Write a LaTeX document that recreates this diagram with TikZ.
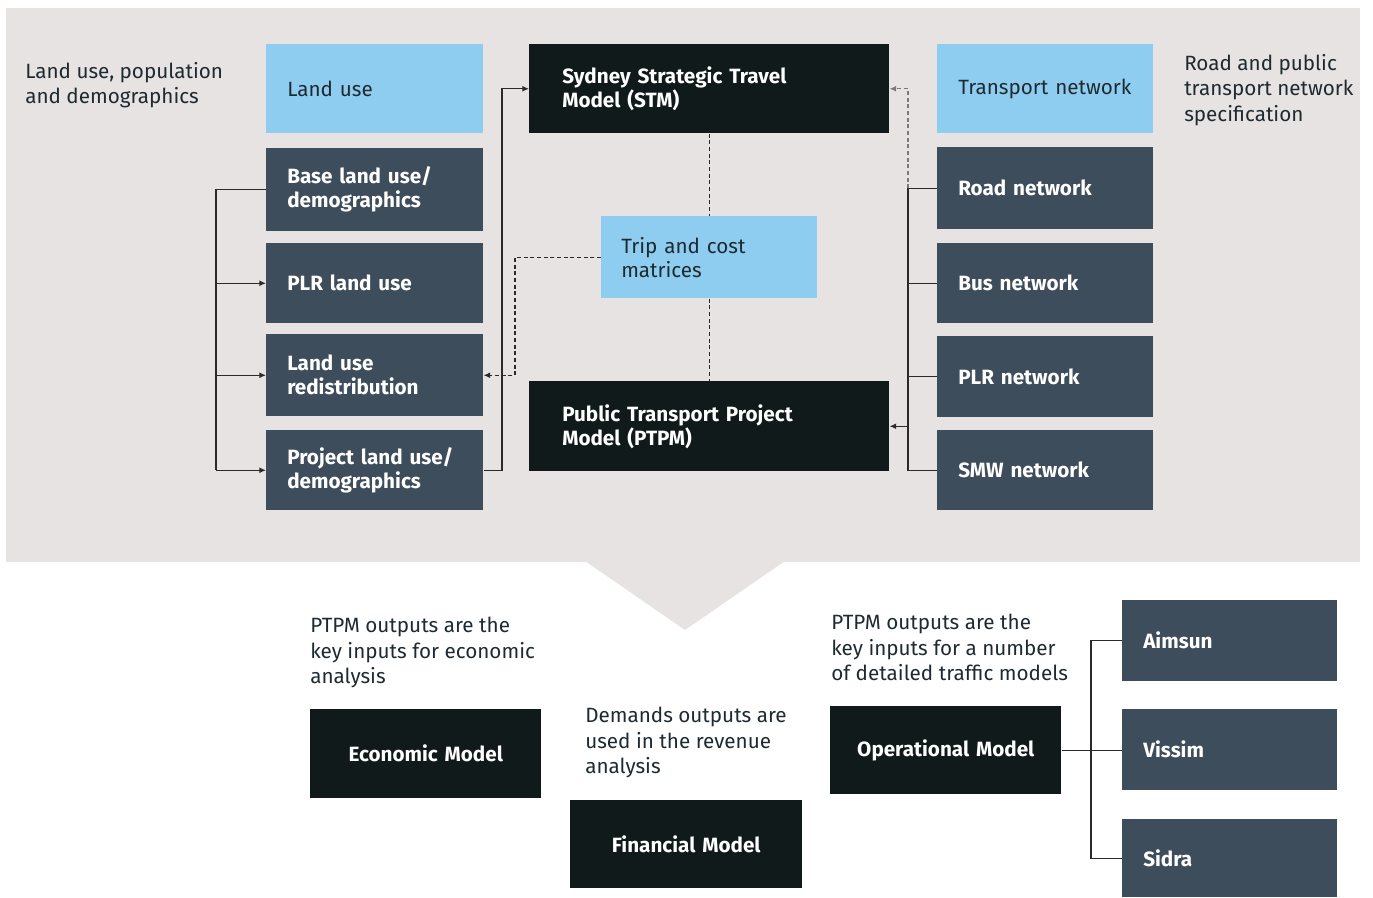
\documentclass[tikz,border=0pt]{standalone}
\usepackage{fontspec}
\setmainfont{Fira Sans}
\usetikzlibrary{arrows.meta}
\definecolor{bgc}{HTML}{E7E3E2}
\definecolor{lblue}{HTML}{8ECDF0}
\definecolor{slate}{HTML}{3E4D5C}
\definecolor{blk}{HTML}{101A1A}
\definecolor{ink}{HTML}{1E2A30}
\definecolor{lnc}{HTML}{2A2A2A}
\definecolor{gdash}{HTML}{7A7A7A}
\tikzset{
  x=0.75pt,y=-0.75pt,
  base/.style={anchor=north west, inner ysep=0pt, align=left, font=\fontsize{15.5}{18}\selectfont},
  lightbox/.style={base, fill=lblue, text=ink},
  slatebox/.style={base, fill=slate, text=white, font=\fontsize{15.5}{18}\selectfont\bfseries},
  blackbox/.style={base, fill=blk, text=white, font=\fontsize{15.5}{18}\selectfont\bfseries},
  centerbox/.style={blackbox, align=center},
  note/.style={anchor=north west, inner sep=0pt, align=left, text=ink, font=\fontsize{15.5}{19}\selectfont},
  conn/.style={draw=lnc, line width=1pt},
  arr/.style={conn, -{Latex[length=5pt,width=4.5pt]}},
  dsh/.style={dash pattern=on 3pt off 2pt},
}
\newcommand\mybox[8][21]{%
  \node[#3, inner xsep={#1*0.75pt}, minimum width={(#6-#4)*0.75pt}, minimum height={(#7-#5)*0.75pt}, text width={(#6-#4-2*#1)*0.75pt}] (#2) at (#4,#5) {#8};}
\begin{document}
\begin{tikzpicture}
\useasboundingbox (0,0) rectangle (1373,897);
\fill[bgc] (6,8) rectangle (1360,562);
\fill[bgc] (585,561) -- (685,630) -- (785,561) -- cycle;

% left column
\mybox{landuse}{lightbox}{266}{44}{483}{133}{Land use}
\mybox{baselu}{slatebox}{266}{148}{483}{231}{Base land use/\\demographics}
\mybox{plrlu}{slatebox}{266}{243}{483}{323}{PLR land use}
\mybox{redist}{slatebox}{266}{334}{483}{416}{Land use\\redistribution}
\mybox{projlu}{slatebox}{266}{430}{483}{510}{Project land use/\\demographics}

% centre
\mybox[33]{stm}{blackbox}{529}{44}{889}{133}{Sydney Strategic Travel\\Model (STM)}
\mybox[20]{trip}{lightbox}{601}{216}{817}{298}{Trip and cost\\matrices}
\mybox[33]{ptpm}{blackbox}{529}{381}{889}{471}{Public Transport Project\\Model (PTPM)}

% right column
\mybox{transnet}{lightbox}{937}{44}{1153}{133}{Transport network}
\mybox{road}{slatebox}{937}{147}{1153}{229}{Road network}
\mybox{bus}{slatebox}{937}{243}{1153}{323}{Bus network}
\mybox{plrnet}{slatebox}{937}{336}{1153}{417}{PLR network}
\mybox{smw}{slatebox}{937}{430}{1153}{510}{SMW network}

% side notes
\node[note] (n1) at (25,62) {Land use, population\\and demographics};
\node[note] (n2) at (1184,54) {Road and public\\transport network\\specification};

% bottom
\node[note] (n3) at (310,617) {PTPM outputs are the\\key inputs for economic\\analysis};
\mybox[10]{econ}{centerbox}{310}{709}{541}{798}{Economic Model}
\node[note] (n4) at (585,707) {Demands outputs are\\used in the revenue\\analysis};
\mybox[10]{fin}{centerbox}{570}{800}{802}{888}{Financial Model}
\node[note] (n5) at (831,614) {PTPM outputs are the\\key inputs for a number\\of detailed traffic models};
\mybox[10]{oper}{centerbox}{830}{706}{1061}{794}{Operational Model}
\mybox{aimsun}{slatebox}{1122}{600}{1337}{681}{Aimsun}
\mybox{vissim}{slatebox}{1122}{709}{1337}{790}{Vissim}
\mybox{sidra}{slatebox}{1122}{819}{1337}{897}{Sidra}

% helper coordinates
\coordinate (LB) at (216,0);
\coordinate (LR) at (502,0);
\coordinate (LD) at (515,0);
\coordinate (RB) at (908,0);
\coordinate (BB) at (1091,0);

% left bracket
\draw[conn] (baselu.west) -- (baselu.west -| LB) -- (projlu.west -| LB);
\draw[arr] (plrlu.west -| LB) -- (plrlu.west);
\draw[arr] (redist.west -| LB) -- (redist.west);
\draw[arr] (projlu.west -| LB) -- (projlu.west);

% project -> STM
\draw[arr] (projlu.east) -- (projlu.east -| LR) |- (stm.west);

% trip -> redistribution (dashed)
\draw[arr,dsh] (trip.west) -- (trip.west -| LD) |- (redist.east);

% STM - trip - PTPM dashed
\draw[conn,dsh] (stm.south) -- (trip.north);
\draw[conn,dsh] (trip.south) -- (ptpm.north);

% right bracket
\draw[conn] (road.west) -- (road.west -| RB) -- (smw.west -| RB) -- (smw.west);
\draw[conn] (bus.west -| RB) -- (bus.west);
\draw[conn] (plrnet.west -| RB) -- (plrnet.west);
\draw[arr] (ptpm.east -| RB) -- (ptpm.east);
\draw[arr,dsh,draw=gdash] (road.west -| RB) -- (stm.east -| RB) -- (stm.east);

% bottom bracket
\draw[conn] (oper.east) -- (oper.east -| vissim.west);
\draw[conn] (aimsun.west) -- (aimsun.west -| BB) -- (sidra.west -| BB) -- (sidra.west);
\end{tikzpicture}
\end{document}
